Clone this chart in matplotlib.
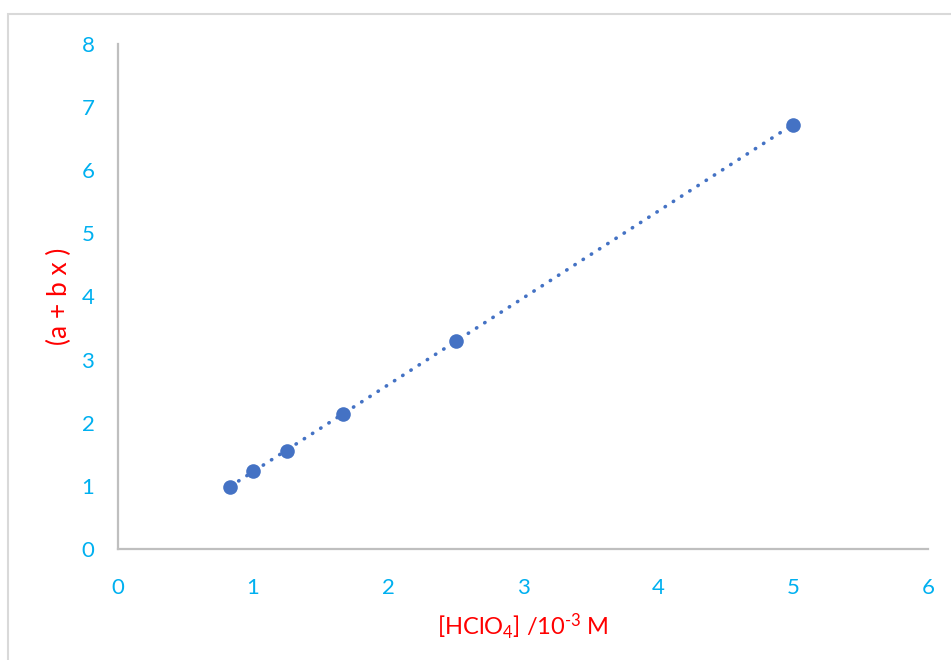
import matplotlib
matplotlib.use("Agg")
import matplotlib.pyplot as plt
from matplotlib.patches import Rectangle
import numpy as np

# Perchloric acid concentration (10^-3 M) and the linearised quantity (a + b x)
hclo4 = [0.833, 1.0, 1.25, 1.667, 2.5, 5.0]
a_plus_bx = [0.99, 1.23, 1.56, 2.14, 3.30, 6.72]

x_ticks = [0, 1, 2, 3, 4, 5, 6]
y_ticks = [0, 1, 2, 3, 4, 5, 6, 7, 8]

W, H = 951, 660
fig = plt.figure(figsize=(W / 100, H / 100), dpi=100)
plt.rcParams['font.family'] = ['Lato', 'DejaVu Sans']
plt.rcParams['mathtext.fontset'] = 'custom'
plt.rcParams['mathtext.rm'] = 'Lato'
plt.rcParams['mathtext.it'] = 'Lato'

# chart-area frame
fig.patches.append(Rectangle((8 / W, -0.05), 1.2, (H - 14) / H + 0.05,
                             transform=fig.transFigure, fill=False,
                             edgecolor='#D9D9D9', lw=1.5, zorder=0))

ax = fig.add_axes([118 / W, 1 - 549 / H, (928 - 118) / W, (549 - 44) / H])

tick_color = '#00B0F0'
label_color = '#FF0000'
mark_color = '#4472C4'

# linear trendline over the data range
coef = np.polyfit(hclo4, a_plus_bx, 1)
xs = np.array([min(hclo4), max(hclo4)])
ax.plot(xs, np.polyval(coef, xs), color=mark_color, lw=2.6,
        linestyle=(0, (0.1, 2.6)), dash_capstyle='round', zorder=2)

ax.plot(hclo4, a_plus_bx, 'o', color=mark_color, markersize=10.5,
        markeredgewidth=0, zorder=3)

ax.set_xlim(0, 6)
ax.set_ylim(0, 8)
ax.set_xticks(x_ticks)
ax.set_yticks(y_ticks)
ax.tick_params(axis='both', length=0, colors=tick_color, labelsize=16)
ax.tick_params(axis='x', pad=21)
ax.tick_params(axis='y', pad=17)

for side in ('top', 'right'):
    ax.spines[side].set_visible(False)
for side in ('left', 'bottom'):
    ax.spines[side].set_color('#BFBFBF')
    ax.spines[side].set_linewidth(1.6)

ax.set_xlabel(r'[HClO$_{4}$] /10$^{\text{-}3}$ M', color=label_color,
              fontsize=17, labelpad=10)
ax.set_ylabel('(a + b x )', color=label_color, fontsize=19, labelpad=7)

fig.savefig('out.png', dpi=100)
